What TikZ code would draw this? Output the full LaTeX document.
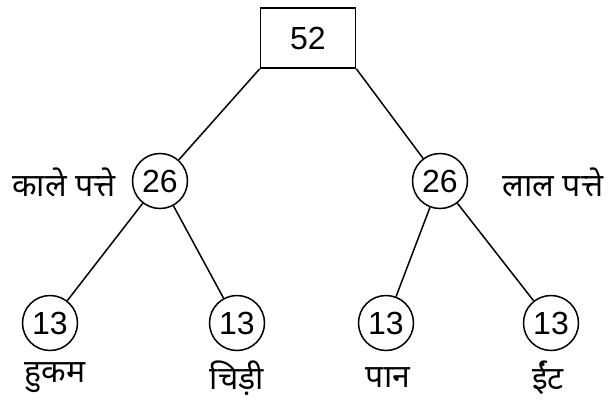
\documentclass[tikz,border=0pt]{standalone}
\usepackage{fontspec}
\setmainfont{Liberation Sans}
\newfontfamily\hindi[Script=Devanagari]{Noto Sans}
\begin{document}
\begin{tikzpicture}[x=1pt,y=-1pt,line width=1.5pt,
  num/.style={circle,draw,minimum size=55pt,inner sep=0pt,font=\fontsize{32}{33}\selectfont},
  lbl/.style={font=\hindi\fontsize{32}{34}\selectfont,inner sep=0pt}]
\useasboundingbox (0,0) rectangle (608,402);
\node[draw,minimum width=95pt,minimum height=60pt,font=\fontsize{32}{33}\selectfont](total) at (308,38){52};
\node[num](black) at (160,181){26};
\node[num](red) at (440,181){26};
\node[num](spade) at (50,323){13};
\node[num](club) at (237,323){13};
\node[num](heart) at (386,323){13};
\node[num](diamond) at (551,323){13};
\draw(total.south west)--(black);
\draw(total.south east)--(red);
\draw(black)--(spade);
\draw(black)--(club);
\draw(red)--(heart);
\draw(red)--(diamond);
\node[lbl](blacktxt) at (64,182){काले पत्ते};
\node[lbl](redtxt) at (553,182){लाल पत्ते};
\node[lbl](spadetxt) at (55,378){हुकम};
\node[lbl](clubtxt) at (237,378){चिड़ी};
\node[lbl](hearttxt) at (388,378){पान};
\node[lbl](diamondtxt) at (548,378){ईंट};
\end{tikzpicture}
\end{document}
